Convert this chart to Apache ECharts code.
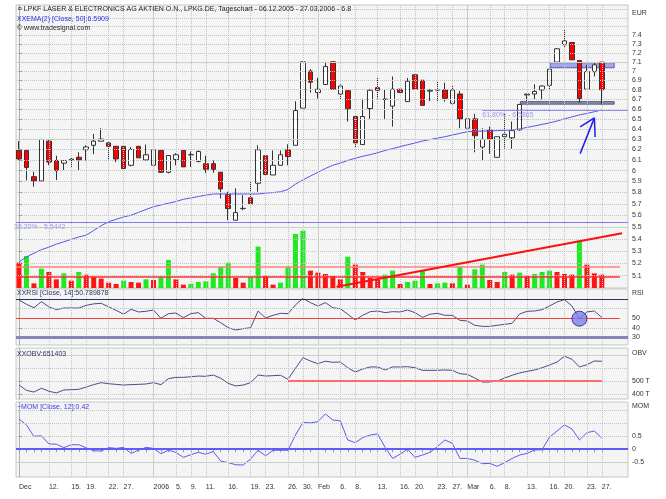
<!DOCTYPE html>
<html><head><meta charset="utf-8">
<script src="https://cdn.jsdelivr.net/npm/echarts@6/dist/echarts.min.js"></script>
<style>html,body{margin:0;padding:0;background:#fff}#c{width:666px;height:499px}</style>
</head><body><div id="c"></div>
<script>
// ---------- data ----------
const dates = ['06.12','07.12','08.12','09.12','12.12','13.12','14.12','15.12','16.12','19.12','20.12','21.12','22.12','23.12','27.12','28.12','29.12','30.12',
'02.01','03.01','04.01','05.01','06.01','09.01','10.01','11.01','12.01','13.01','16.01','17.01','18.01','19.01','20.01','23.01','24.01','25.01','26.01','27.01','30.01','31.01',
'01.02','02.02','03.02','06.02','07.02','08.02','09.02','10.02','13.02','14.02','15.02','16.02','17.02','20.02','21.02','22.02','23.02','24.02','27.02','28.02',
'01.03','02.03','03.03','06.03','07.03','08.03','09.03','10.03','13.03','14.03','15.03','16.03','17.03','20.03','21.03','22.03','23.03','24.03','27.03'];
const open = [6.19,6.19,5.944,5.905,6.28,6.095,6.07,6.10,6.125,6.197, 6.24,6.28,6.263,6.23,6.23,6.05,6.23,6.10,6.05,6.19, 5.985,6.104,6.19,6.149,6.086,6.065,6.065,5.985,5.784,5.557, 5.658,5.753,5.884,6.14,5.96,6.05,6.197,6.24,6.61,7.00, 6.77,6.855,7.10,6.755,6.79,6.524,6.247,6.605,6.822,6.70, 6.63,6.805,6.676,6.959,6.90,6.785,6.798,6.798,6.658,6.755, 6.407,6.50,6.223,6.39,6.125,6.323,6.313,6.39,6.745,6.755, 6.798,6.846,7.097,7.289,7.315,7.114,6.805,6.993,7.097];
const high = [6.28,6.20,5.99,6.30,6.30,6.14,6.095,6.125,6.173,6.24, 6.35,6.407,6.273,6.23,6.23,6.223,6.23,6.247,6.20,6.19, 6.142,6.164,6.19,6.18,6.19,6.14,6.095,5.985,5.807,5.838, 5.777,5.90,6.24,6.14,6.19,6.19,6.25,6.68,7.10,7.02, 6.925,7.10,7.10,6.857,6.79,6.524,6.707,6.805,6.925,6.805, 6.941,6.805,6.925,6.959,6.90,6.805,6.89,6.874,6.839,6.788, 6.50,6.55,6.407,6.423,6.323,6.55,6.473,6.647,6.755,6.857, 6.846,7.019,7.252,7.465,7.315,7.114,7.067,7.086,7.097];
const low = [6.10,5.91,5.853,5.90,6.05,5.914,6.005,6.035,6.005,6.095, 6.155,6.28,6.10,6.08,6.02,6.04,6.12,6.095,5.96,5.98, 5.975,6.05,6.035,6.035,6.077,5.98,5.98,5.747,5.557,5.557, 5.643,5.696,5.807,5.965,5.96,6.05,6.05,6.24,6.61,6.77, 6.707,6.855,6.80,6.70,6.473,6.223,6.247,6.50,6.707,6.50, 6.423,6.765,6.676,6.805,6.637,6.682,6.682,6.676,6.647,6.407, 6.407,6.173,6.095,6.158,6.125,6.207,6.207,6.383,6.682,6.70, 6.70,6.805,7.086,7.252,7.122,6.665,6.805,6.941,6.647];
const close = [6.11,6.03,5.905,6.297,6.08,6.00,6.095,6.107,6.10,6.223, 6.28,6.30,6.23,6.11,6.02,6.20,6.12,6.149,6.197,5.985, 6.142,6.149,6.035,6.15,6.18,6.012,6.012,5.832,5.658,5.623, 5.66,5.702,6.197,5.965,6.05,6.149,6.132,6.584,7.10,6.88, 6.805,7.048,6.805,6.839,6.602,6.263,6.524,6.795,6.795,6.70, 6.805,6.772,6.89,6.805,6.637,6.795,6.798,6.71,6.798,6.50, 6.50,6.333,6.297,6.297,6.323,6.347,6.383,6.647,6.755,6.782, 6.839,7.019,7.244,7.333,7.122,6.707,6.993,7.067,6.80];
const ema50 = [5.21,5.25,5.28,5.31,5.33,5.355,5.375,5.395,5.415,5.43, 5.47,5.51,5.544,5.565,5.585,5.60,5.625,5.65,5.674,5.69, 5.705,5.72,5.74,5.752,5.765,5.776,5.787,5.787,5.787,5.787, 5.787,5.787,5.787,5.795,5.80,5.807,5.828,5.876,5.915,5.95, 5.985,6.02,6.05,6.07,6.095,6.116,6.135,6.15,6.169,6.19, 6.208,6.226,6.245,6.262,6.281,6.295,6.31,6.323,6.34,6.356, 6.372,6.375,6.378,6.38,6.383,6.386,6.39,6.40,6.415,6.429, 6.445,6.46,6.479,6.50,6.52,6.54,6.555,6.572,6.5909];
const volume = [38,48,7,29,24,13,22,11,24,20, 17,14,8,6,11,9,8,13,12,16, 42,13,5,6,9,10,22,32,38,15, 8,17,62,18,5,8,32,81,86,26, 23,21,18,13,47,35,24,15,12,20, 26,6,9,11,26,6,7,8,7,32, 5,28,35,12,9,24,20,23,18,21, 24,26,24,21,20,71,35,22,20];
const rsi = [69,64.6,61,67.3,62,59,60.7,60.7,60.7,63.5, 65,65.6,62,58.3,54.2,59.4,56.6,57.3,58.6,50, 54.8,55.5,50.6,54.8,55.9,50,50,45.4,40.2,37.8, 39.2,40.2,57.6,50.3,53.1,55.2,54.8,63.9,70.8,66.3, 62.8,66.3,61,60,54.2,48.2,53.1,56.9,57.6,55.9, 56.9,56.6,58.6,55.9,51,54.2,55.2,53.1,53.1,47.9, 47.2,42.7,41.6,41.6,42.7,43.7,44.8,54.5,57.3,57.6, 59,62.8,67,69.4,62.8,49.6,56.6,57.6,50.79];
const obv = [469,428,415,444,421,408,431,433,436,454, 472,487,479,474,469,472,474,477,487,472, 518,528,528,533,538,536,546,521,482,462, 469,487,546,538,541,544,513,598,679,654, 633,652,644,646,602,569,592,608,608,585, 608,608,610,602,582,582,582,585,582,556, 551,523,492,492,500,523,544,562,574,585, 602,623,646,690,667,608,625,654,651.4];
const mom = [1.15,0.92,0.49,0.51,0.2,0.19,0.06,0.17,0.17,0.05, -0.06,-0.07,0.06,0.03,0.07,-0.16,-0.04,0.07,0.03,-0.17, -0.04,-0.12,-0.31,-0.21,-0.12,-0.19,-0.09,-0.45,-0.51,-0.59, -0.6,-0.37,-0.04,-0.25,-0.04,-0.04,-0.04,0.54,1.02,1.0, 1.05,1.34,1.11,1.08,0.35,0.25,0.44,0.54,0.58,0.07, -0.35,-0.19,0,-0.31,-0.22,-0.12,0.1,0.35,0.22,-0.35, -0.35,-0.42,-0.55,-0.54,-0.65,-0.51,-0.35,-0.22,-0.16,-0.03, -0.02,0.46,0.69,0.93,0.77,0.35,0.63,0.69,0.42];

// tick labels
const labelDays = [0,4,7,9,12,14,18,21,23,25,28,31,33,36,38,40,43,45,48,51,53,56,58,60,63,65,68,71,73,76,78];
const labelTexts = ['Dec','12.','15.','19.','22.','27.','2006','5.','9.','11.','16.','19.','23.','26.','30.','Feb','6.','8.','13.','16.','20.','23.','27.','Mar','6.','8.','13.','16.','20.','23.','27.'];
const monthStarts = [18,40,60];
const priceTicks = [5.1,5.2,5.3,5.4,5.5,5.6,5.7,5.8,5.9,6.0,6.1,6.2,6.3,6.4,6.5,6.6,6.7,6.8,6.9,7.0,7.1,7.2,7.3,7.4];
const rsiTicks = [50,40,30];
const obvTicks = [500,400];
const momTicks = [0.5,0,-0.5];

// annotations
const fib382 = 5.5442, fib618 = 6.5865;
const volLevels = [31.5, 17.5];
const volTrend = [[42.5, 2],[80.7, 82]];
const boxUpper = [[71.1, 7.09],[79.65, 7.035]];
const boxLower = [[67.1, 6.676],[79.65, 6.65]];
const arrow = {tail:[75.1,6.16], tip:[77.0,6.51], headL:[75.1,6.42], headR:[77.1,6.32]};
const rsiMarkDay = 75;
const obvLevel = {from:36, to:78, value:502};

// ---------- chart ----------
const FONT = 'Liberation Sans';
const FS = 7;
const DOT = {type:'dotted', color:'#c3c3c3', width:1};
const SOL = {type:'solid', color:'#c6d2c6', width:1};
const XMIN = -0.4, XMAX = 81.5;
const grids = [
  {left:16, top:5, width:612, height:283},
  {left:16, top:289, width:612, height:56},
  {left:16, top:348, width:612, height:51},
  {left:16, top:402, width:612, height:75}
].map(g => Object.assign(g, {show:true, backgroundColor:'#f4f4f4', borderColor:'#c2c9c2', borderWidth:1}));

function vLines(){
  const d = labelDays.filter(x => x > 0 && monthStarts.indexOf(x) < 0).map(x => ({xAxis:x, lineStyle:DOT}));
  return d.concat(monthStarts.map(x => ({xAxis:x, lineStyle:SOL})));
}
function helper(gi, yi, hl){
  return {type:'line', xAxisIndex:gi, yAxisIndex:yi, data:[], z:1, silent:true,
    markLine:{silent:true, symbol:'none', animation:false, label:{show:false}, data: hl.concat(vLines())}};
}
function yAx(gi, min, max, ticks, fmt, extra){
  return Object.assign({type:'value', gridIndex:gi, min:min, max:max, position:'right',
    axisLine:{show:true, lineStyle:{color:'#a9b1a9'}},
    axisTick:{show:true, length:3, customValues:ticks, lineStyle:{color:'#888'}},
    axisLabel:{show:true, customValues:ticks, formatter:fmt, fontSize:FS, fontFamily:FONT, color:'#333', margin:4},
    splitLine:{show:false}}, extra||{});
}
const xAxes = [0,1,2,3].map(g => ({type:'value', gridIndex:g, min:XMIN, max:XMAX, show:g===3,
  axisLine:{show:false}, splitLine:{show:false},
  axisTick:{show:true, length:3, customValues:dates.map((d,i)=>i), lineStyle:{color:'#999'}},
  axisLabel:{show:true, customValues:labelDays, align:'left', margin:7, fontSize:FS, fontFamily:FONT, color:'#333',
    formatter:v => { const k = labelDays.indexOf(Math.round(v)); return k >= 0 ? labelTexts[k] : ''; }}}));

const priceFmt = v => String(Number(v.toFixed(1)));
const yAxes = [
  yAx(0, 5.004, 7.752, priceTicks, priceFmt, {type:'log', logBase:10}),
  {type:'value', gridIndex:0, min:0, max:424.5, show:false},
  yAx(1, 22.2, 80.5, rsiTicks, v => String(v)),
  yAx(2, 361.5, 753.8, obvTicks, v => v + ' T'),
  yAx(3, -1.057, 1.795, momTicks, v => String(v))
];

const priceH = [];
for (let k = 51; k <= 77; k++) { const v = k/10; priceH.push({yAxis:v, lineStyle:(k===55||k===63||k===71)?SOL:DOT}); }

const GREEN = '#1fea1f', RED = '#ff1414';
const series = [
  helper(0, 0, priceH),
  helper(1, 2, [{yAxis:60, lineStyle:DOT},{yAxis:40, lineStyle:DOT}]),
  helper(2, 3, [{yAxis:700, lineStyle:SOL},{yAxis:600, lineStyle:DOT},{yAxis:500, lineStyle:DOT},{yAxis:400, lineStyle:DOT}]),
  helper(3, 4, [{yAxis:1.5, lineStyle:DOT},{yAxis:1.0, lineStyle:DOT},{yAxis:0.5, lineStyle:DOT},{yAxis:-0.5, lineStyle:SOL}]),
  { // volume
    type:'bar', xAxisIndex:0, yAxisIndex:1, barWidth:5, z:2, silent:true,
    data: volume.map((v,i) => ({value:[i,v], itemStyle:{color:(i>0 && v>volume[i-1]) ? GREEN : RED}})),
    markLine:{silent:true, symbol:'none', animation:false, label:{show:false}, data:[
      [{coord:[XMIN, volLevels[0]], lineStyle:{color:'#ff8080', width:1.5, type:'solid'}},{coord:[80.4, volLevels[0]]}],
      [{coord:[XMIN, volLevels[1]], lineStyle:{color:'#ff3030', width:1.5, type:'solid'}},{coord:[80.4, volLevels[1]]}],
      [{coord:volTrend[0], lineStyle:{color:'#ff1010', width:2, type:'solid'}},{coord:volTrend[1]}]
    ]}
  },
  { // candles
    type:'candlestick', xAxisIndex:0, yAxisIndex:0, barWidth:5, z:3, silent:true,
    encode:{x:0, y:[1,2,3,4]},
    data: open.map((o,i) => [i, o, close[i], low[i], high[i]]),
    itemStyle:{color:'#ffffff', color0:'#ff0000', borderColor:'#333', borderColor0:'#333', borderWidth:1},
    markArea:{silent:true, data:[
      [{coord:boxUpper[0], itemStyle:{color:'rgba(150,150,235,0.85)', borderColor:'#5a5ab8', borderWidth:1}},{coord:boxUpper[1]}],
      [{coord:boxLower[0], itemStyle:{color:'#8f8fb5', borderColor:'#5a5a7a', borderWidth:1}},{coord:boxLower[1]}]
    ]},
    markLine:{silent:true, symbol:'none', animation:false, data:[
      {yAxis:fib382, lineStyle:{color:'#7f7ff2', width:1, type:'solid'},
        label:{show:true, position:'insideStartBottom', distance:[-2,1], formatter:'38.20% - ' + fib382, color:'#9b9be8', fontSize:FS, fontFamily:FONT}},
      [{coord:[62, fib618], lineStyle:{color:'#8f8ff0', width:1, type:'solid'},
        label:{show:true, position:'insideStartBottom', distance:[0,1], formatter:'61.80% - ' + fib618, color:'#9b9be8', fontSize:FS, fontFamily:FONT}},{coord:[XMAX, fib618]}],
      [{coord:arrow.tail, lineStyle:{color:'#1c1cf0', width:1.5, type:'solid'}, label:{show:false}},{coord:arrow.tip}],
      [{coord:arrow.headL, lineStyle:{color:'#1c1cf0', width:1.5, type:'solid'}, label:{show:false}},{coord:arrow.tip}],
      [{coord:arrow.headR, lineStyle:{color:'#1c1cf0', width:1.5, type:'solid'}, label:{show:false}},{coord:arrow.tip}]
    ]}
  },
  { // EMA
    type:'line', xAxisIndex:0, yAxisIndex:0, z:4, silent:true, showSymbol:false, symbol:'none',
    data: ema50.map((v,i) => [i,v]), lineStyle:{color:'#5656ee', width:1}
  },
  { // RSI
    type:'line', xAxisIndex:1, yAxisIndex:2, z:4, silent:true, showSymbol:false, symbol:'none',
    data: rsi.map((v,i) => [i,v]), lineStyle:{color:'#4b4b8a', width:1},
    markLine:{silent:true, symbol:'none', animation:false, label:{show:false}, data:[
      {yAxis:70, lineStyle:{color:'#30305e', width:1, type:'solid'}},
      {yAxis:30, lineStyle:{color:'#8585b8', width:3, type:'solid'}},
      [{coord:[XMIN,50], lineStyle:{color:'#ff3a3a', width:1, type:'solid'}},{coord:[80.4,50]}]
    ]},
    markPoint:{silent:true, animation:false, label:{show:false},
      data:[{coord:[rsiMarkDay, rsi[rsiMarkDay]], symbol:'circle', symbolSize:15,
        itemStyle:{color:'rgba(120,120,235,0.75)', borderColor:'#3a3a8c', borderWidth:1}}]}
  },
  { // OBV
    type:'line', xAxisIndex:2, yAxisIndex:3, z:4, silent:true, showSymbol:false, symbol:'none',
    data: obv.map((v,i) => [i,v]), lineStyle:{color:'#4b4b8a', width:1},
    markLine:{silent:true, symbol:'none', animation:false, label:{show:false}, data:[
      [{coord:[obvLevel.from, obvLevel.value], lineStyle:{color:'#ff6a6a', width:2, type:'solid'}},{coord:[obvLevel.to, obvLevel.value]}]
    ]}
  },
  { // MOM
    type:'line', xAxisIndex:3, yAxisIndex:4, z:4, silent:true, showSymbol:false, symbol:'none',
    data: mom.map((v,i) => [i,v]), lineStyle:{color:'#5a5af4', width:1},
    markLine:{silent:true, symbol:'none', animation:false, label:{show:false}, data:[
      {yAxis:0, lineStyle:{color:'#5c5cf6', width:2, type:'solid'}}
    ]}
  }
];

function txt(x, y, s, fill){
  return {type:'text', x:x, y:y, z:100, silent:true,
    style:{text:s, fill:fill||'#222', fontSize:FS, fontFamily:FONT, verticalAlign:'middle', align:'left'}};
}
const graphic = [
  txt(18, 9.5, '\u00A4 LPKF LASER & ELECTRONICS AG AKTIEN O.N., LPKG.DE, Tageschart - 06.12.2005 - 27.03.2006 - 6.8', '#1e1e1e'),
  txt(17, 19.5, 'XXEMA(2) [Close, 50]:6.5909', '#2f2fe6'),
  txt(17, 28.5, '\u00A9 www.tradesignal.com', '#2a2a2a'),
  txt(17, 293, 'XXRSI [Close, 14]:50.789878', '#30306a'),
  txt(17, 354, 'XXOBV:651403', '#30306a'),
  txt(17, 407.5, '~MOM [Close, 12]:0.42', '#3a3aee'),
  txt(632, 13, 'EUR', '#333'),
  txt(632, 293, 'RSI', '#333'),
  txt(632, 353, 'OBV', '#333'),
  txt(632, 406, 'MOM', '#333')
];

const chart = echarts.init(document.getElementById('c'), null, {renderer:'canvas'});
chart.setOption({animation:false, backgroundColor:'#ffffff', grid:grids, xAxis:xAxes, yAxis:yAxes, series:series, graphic:graphic});
</script>
</body></html>
